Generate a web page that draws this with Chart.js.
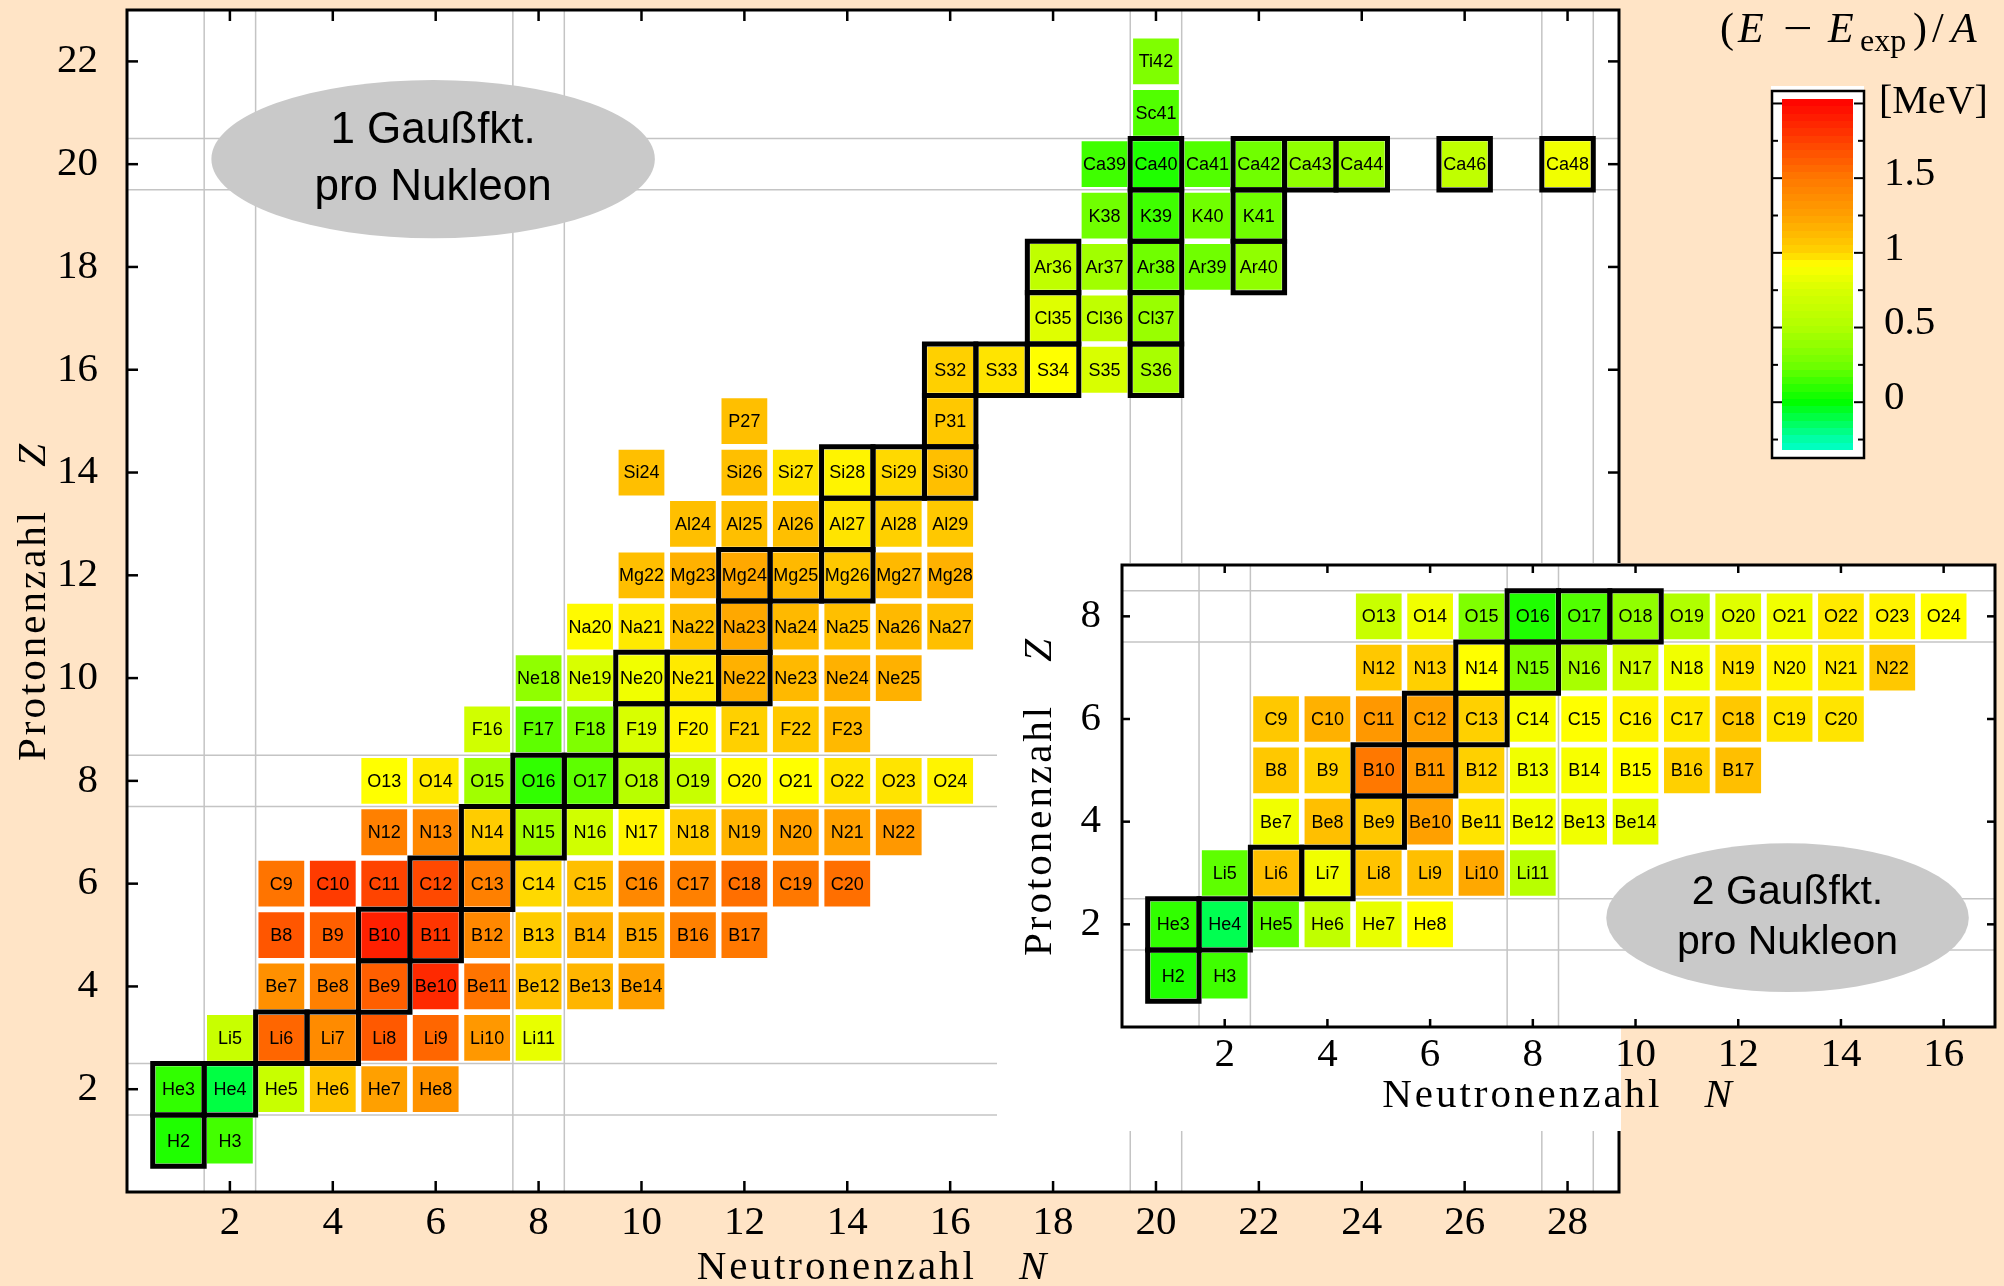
<!DOCTYPE html>
<html>
<head>
<meta charset="utf-8">
<script src="https://cdn.jsdelivr.net/npm/chart.js@4.4.1/dist/chart.umd.min.js"></script>
<style>
  html, body { margin: 0; padding: 0; background: #ffe4c6; }
  body { width: 2004px; height: 1286px; position: relative; overflow: hidden; }
  canvas { position: absolute; }
  #main { left: 0; top: 0; }
  #inset-bg { position: absolute; left: 997px; top: 563px; width: 624px; height: 568px; background: #fff; }
  #inset { left: 997px; top: 545px; }
  #cbar { left: 1700px; top: 0; }
</style>
</head>
<body>
<canvas id="main" width="2004" height="1286"></canvas>
<div id="inset-bg"></div>
<canvas id="inset" width="1007" height="586"></canvas>
<canvas id="cbar" width="304" height="480"></canvas>
<script>
// proton number per element symbol, used to place each nucleus at (N, Z)
const elementZ = { H: 1, He: 2, Li: 3, Be: 4, B: 5, C: 6, N: 7, O: 8, F: 9, Ne: 10, Na: 11, Mg: 12,
  Al: 13, Si: 14, P: 15, S: 16, Cl: 17, Ar: 18, K: 19, Ca: 20, Sc: 21, Ti: 22 };

// 1 Gaussian per nucleon
const mainNuclei = [
  'H2', 'H3',
  'He3', 'He4', 'He5', 'He6', 'He7', 'He8',
  'Li5', 'Li6', 'Li7', 'Li8', 'Li9', 'Li10', 'Li11',
  'Be7', 'Be8', 'Be9', 'Be10', 'Be11', 'Be12', 'Be13', 'Be14',
  'B8', 'B9', 'B10', 'B11', 'B12', 'B13', 'B14', 'B15', 'B16', 'B17',
  'C9', 'C10', 'C11', 'C12', 'C13', 'C14', 'C15', 'C16', 'C17', 'C18', 'C19', 'C20',
  'N12', 'N13', 'N14', 'N15', 'N16', 'N17', 'N18', 'N19', 'N20', 'N21', 'N22',
  'O13', 'O14', 'O15', 'O16', 'O17', 'O18', 'O19', 'O20', 'O21', 'O22', 'O23', 'O24',
  'F16', 'F17', 'F18', 'F19', 'F20', 'F21', 'F22', 'F23',
  'Ne18', 'Ne19', 'Ne20', 'Ne21', 'Ne22', 'Ne23', 'Ne24', 'Ne25',
  'Na20', 'Na21', 'Na22', 'Na23', 'Na24', 'Na25', 'Na26', 'Na27',
  'Mg22', 'Mg23', 'Mg24', 'Mg25', 'Mg26', 'Mg27', 'Mg28',
  'Al24', 'Al25', 'Al26', 'Al27', 'Al28', 'Al29',
  'Si24', 'Si26', 'Si27', 'Si28', 'Si29', 'Si30',
  'P27', 'P31',
  'S32', 'S33', 'S34', 'S35', 'S36',
  'Cl35', 'Cl36', 'Cl37',
  'Ar36', 'Ar37', 'Ar38', 'Ar39', 'Ar40',
  'K38', 'K39', 'K40', 'K41',
  'Ca39', 'Ca40', 'Ca41', 'Ca42', 'Ca43', 'Ca44', 'Ca46', 'Ca48',
  'Sc41', 'Ti42',
];
// (E - Eexp)/A in MeV, same order
const mainDeltaE = [
  0.07, 0.15,
  0.11, -0.10, 0.65, 1.08, 1.25, 1.33,
  0.65, 1.58, 1.38, 1.64, 1.58, 1.30, 0.82,
  1.35, 1.45, 1.61, 1.85, 1.52, 1.10, 1.15, 1.25,
  1.65, 1.61, 1.89, 1.80, 1.40, 1.04, 1.17, 1.21, 1.45, 1.50,
  1.52, 1.77, 1.73, 1.71, 1.45, 0.99, 1.10, 1.40, 1.45, 1.54, 1.50, 1.54,
  1.45, 1.40, 1.04, 0.44, 0.70, 0.94, 1.04, 1.16, 1.25, 1.25, 1.30,
  0.92, 0.96, 0.44, 0.11, 0.21, 0.55, 0.65, 0.93, 0.92, 0.97, 0.97, 0.94,
  0.70, 0.21, 0.31, 0.75, 0.94, 1.02, 1.06, 1.13,
  0.375, 0.75, 0.86, 0.96, 1.17, 1.13, 1.17, 1.17,
  0.93, 0.96, 1.10, 1.21, 1.13, 1.10, 1.13, 1.10,
  1.10, 1.17, 1.21, 1.13, 1.06, 1.13, 1.17,
  1.10, 1.10, 1.10, 0.97, 1.02, 1.06,
  1.10, 1.10, 0.97, 0.94, 0.99, 1.10,
  1.10, 1.06,
  1.02, 0.97, 0.92, 0.75, 0.47,
  0.78, 0.60, 0.41,
  0.60, 0.44, 0.25, 0.25, 0.375,
  0.25, 0.14, 0.25, 0.25,
  0.14, 0.07, 0.18, 0.25, 0.375, 0.41, 0.60, 0.86,
  0.18, 0.31,
];
const mainStable = ['H2', 'He3', 'He4', 'Li6', 'Li7', 'Be9', 'B10', 'B11', 'C12', 'C13', 'N14', 'N15',
  'O16', 'O17', 'O18', 'F19', 'Ne20', 'Ne21', 'Ne22', 'Na23', 'Mg24', 'Mg25', 'Mg26', 'Al27',
  'Si28', 'Si29', 'Si30', 'P31', 'S32', 'S33', 'S34', 'S36', 'Cl35', 'Cl37', 'Ar36', 'Ar38', 'Ar40',
  'K39', 'K41', 'Ca40', 'Ca42', 'Ca43', 'Ca44', 'Ca46', 'Ca48'];

// 2 Gaussians per nucleon
const insetNuclei = [
  'H2', 'H3',
  'He3', 'He4', 'He5', 'He6', 'He7', 'He8',
  'Li5', 'Li6', 'Li7', 'Li8', 'Li9', 'Li10', 'Li11',
  'Be7', 'Be8', 'Be9', 'Be10', 'Be11', 'Be12', 'Be13', 'Be14',
  'B8', 'B9', 'B10', 'B11', 'B12', 'B13', 'B14', 'B15', 'B16', 'B17',
  'C9', 'C10', 'C11', 'C12', 'C13', 'C14', 'C15', 'C16', 'C17', 'C18', 'C19', 'C20',
  'N12', 'N13', 'N14', 'N15', 'N16', 'N17', 'N18', 'N19', 'N20', 'N21', 'N22',
  'O13', 'O14', 'O15', 'O16', 'O17', 'O18', 'O19', 'O20', 'O21', 'O22', 'O23', 'O24',
];
const insetDeltaE = [
  0.07, 0.14,
  0.11, -0.12, 0.21, 0.60, 0.82, 0.92,
  0.21, 1.10, 0.86, 1.08, 1.10, 1.21, 0.55,
  0.86, 1.10, 1.06, 1.25, 0.97, 0.86, 0.86, 0.82,
  1.06, 1.02, 1.50, 1.30, 1.02, 0.86, 0.89, 0.92, 1.02, 1.10,
  1.06, 1.17, 1.30, 1.25, 1.02, 0.89, 0.92, 0.94, 0.96, 1.06, 0.97, 0.97,
  1.06, 1.02, 0.92, 0.31, 0.47, 0.70, 0.86, 0.97, 0.94, 0.96, 1.06,
  0.65, 0.86, 0.31, 0.07, 0.18, 0.375, 0.50, 0.78, 0.86, 0.96, 0.94, 0.92,
];
const insetStable = ['H2', 'He3', 'He4', 'Li6', 'Li7', 'Be9', 'B10', 'B11', 'C12', 'C13', 'N14', 'N15',
  'O16', 'O17', 'O18'];

const magicNumbers = [2, 8, 20, 28];
const mainTicksN = [2, 4, 6, 8, 10, 12, 14, 16, 18, 20, 22, 24, 26, 28];
const mainTicksZ = [2, 4, 6, 8, 10, 12, 14, 16, 18, 20, 22];
const insetTicksN = [2, 4, 6, 8, 10, 12, 14, 16];
const insetTicksZ = [2, 4, 6, 8];

// colour scale of the colour bar
const paletteValues = [-0.32, -0.25, 0, 0.25, 0.5, 0.75, 0.92, 1.0, 1.25, 1.5, 1.75, 2.03];
const paletteColors = ['#00ffcc', '#00ffa8', '#00ff00', '#70ff00', '#b0ff00', '#d8ff00', '#ffff00',
  '#ffd400', '#ffa000', '#ff7800', '#ff4000', '#ff0000'];
const colorbarMajor = [0, 0.5, 1, 1.5, 2];
const colorbarMinor = [-0.25, 0.25, 0.75, 1.25, 1.75];
const colorbarLabels = [0, 0.5, 1, 1.5];

const serif = '"Liberation Serif", "Times New Roman", serif';
const sans = '"Liberation Sans", Arial, sans-serif';
const tickFont = { family: serif, size: 41 };
const cellSize = 0.89;

function hexToRgb(h) { return [1, 3, 5].map((i) => parseInt(h.slice(i, i + 2), 16)); }
function valueColor(v) {
  if (v <= paletteValues[0]) return paletteColors[0];
  for (let i = 1; i < paletteValues.length; i++) {
    if (v <= paletteValues[i]) {
      const t = (v - paletteValues[i - 1]) / (paletteValues[i] - paletteValues[i - 1]);
      const a = hexToRgb(paletteColors[i - 1]);
      const b = hexToRgb(paletteColors[i]);
      return `rgb(${a.map((c, k) => Math.round(c + (b[k] - c) * t)).join(',')})`;
    }
  }
  return paletteColors[paletteColors.length - 1];
}

function nucleus(name, value) {
  const [, sym, a] = name.match(/^([A-Z][a-z]?)(\d+)$/);
  const z = elementZ[sym];
  return { x: Number(a) - z, y: z, label: name, value };
}

function unitPx(chart, axis) {
  const s = chart.scales[axis];
  return Math.abs(s.getPixelForValue(1) - s.getPixelForValue(0));
}
function seg(ctx, x1, y1, x2, y2) { ctx.beginPath(); ctx.moveTo(x1, y1); ctx.lineTo(x2, y2); ctx.stroke(); }

function drawAxisTitle(ctx, word, sym, x, y, rotate, gap) {
  const font = `41px ${serif}`;
  ctx.save();
  ctx.translate(x, y);
  if (rotate) ctx.rotate(-Math.PI / 2);
  ctx.fillStyle = '#000';
  ctx.textAlign = 'left';
  ctx.textBaseline = 'alphabetic';
  ctx.letterSpacing = '3px';
  ctx.font = font;
  const w1 = ctx.measureText(word).width;
  ctx.font = 'italic ' + font;
  const w2 = ctx.measureText(sym).width;
  const start = -(w1 + gap + w2) / 2;
  ctx.font = font;
  ctx.fillText(word, start, 0);
  ctx.font = 'italic ' + font;
  ctx.fillText(sym, start + w1 + gap, 0);
  ctx.restore();
}

function makeDecor(cfg) {
  return {
    id: 'decor',
    beforeDraw(chart) {
      const { ctx, chartArea: a } = chart;
      ctx.save();
      ctx.fillStyle = '#fff';
      ctx.fillRect(a.left, a.top, a.width, a.height);
      ctx.restore();
    },
    beforeDatasetsDraw(chart) {
      const { ctx, chartArea: a, scales: { x, y } } = chart;
      ctx.save();
      ctx.strokeStyle = '#c4c4c4';
      ctx.lineWidth = 1.5;
      magicNumbers.forEach((m) => {
        [m - 0.5, m + 0.5].forEach((v) => {
          if (v < x.max) { const px = x.getPixelForValue(v); seg(ctx, px, a.top, px, a.bottom); }
          if (v < y.max) { const py = y.getPixelForValue(v); seg(ctx, a.left, py, a.right, py); }
        });
      });
      const e = cfg.ellipse;
      const cx = x.getPixelForValue(e.n);
      const cy = y.getPixelForValue(e.z);
      ctx.fillStyle = '#c9c9c9';
      ctx.beginPath();
      ctx.ellipse(cx, cy, e.rn * unitPx(chart, 'x'), e.rz * unitPx(chart, 'y'), 0, 0, Math.PI * 2);
      ctx.fill();
      ctx.fillStyle = '#000';
      ctx.font = `${e.size}px ${sans}`;
      ctx.textAlign = 'center';
      ctx.textBaseline = 'middle';
      e.lines.forEach((t, i) => ctx.fillText(t, cx, cy + (i - 0.5) * e.gap));
      ctx.restore();
    },
    afterDatasetsDraw(chart) {
      const { ctx, chartArea: a, scales: { x, y } } = chart;
      ctx.save();
      // nucleus names
      const pts = chart.data.datasets[0].data;
      ctx.fillStyle = '#000';
      ctx.font = `18px ${sans}`;
      ctx.textAlign = 'center';
      ctx.textBaseline = 'middle';
      chart.getDatasetMeta(0).data.forEach((el, i) => ctx.fillText(pts[i].label, el.x, el.y + 1));
      // frame and inward ticks
      ctx.strokeStyle = '#000';
      ctx.lineWidth = 3;
      ctx.strokeRect(a.left, a.top, a.width, a.height);
      ctx.lineWidth = 2.5;
      x.ticks.forEach((t) => {
        const px = x.getPixelForValue(t.value);
        seg(ctx, px, a.bottom, px, a.bottom - cfg.tickLen);
        seg(ctx, px, a.top, px, a.top + cfg.tickLen);
      });
      y.ticks.forEach((t) => {
        const py = y.getPixelForValue(t.value);
        seg(ctx, a.left, py, a.left + cfg.tickLen, py);
        seg(ctx, a.right, py, a.right - cfg.tickLen, py);
      });
      ctx.restore();
      drawAxisTitle(ctx, 'Neutronenzahl', 'N', (a.left + a.right) / 2, a.bottom + cfg.xTitleOffset, false, 42);
      drawAxisTitle(ctx, 'Protonenzahl', 'Z', a.left - cfg.yTitleOffset, (a.top + a.bottom) / 2, true, 42);
    },
  };
}

function makeChart(canvas, cfg) {
  const points = cfg.nuclei.map((n, i) => nucleus(n, cfg.values[i]));
  const stable = points.filter((p) => cfg.stable.includes(p.label));
  const cellRadius = (c) => unitPx(c.chart, 'x') * cellSize / 2 * Math.SQRT2;
  const boxRadius = (c) => unitPx(c.chart, 'x') / 2 * Math.SQRT2;
  return new Chart(canvas, {
    type: 'scatter',
    data: {
      datasets: [
        {
          data: points,
          pointStyle: 'rect',
          pointBackgroundColor: points.map((p) => valueColor(p.value)),
          pointBorderWidth: 0,
          pointHoverBorderWidth: 0,
          pointRadius: cellRadius,
          pointHoverRadius: cellRadius,
          order: 2,
        },
        {
          data: stable,
          pointStyle: 'rect',
          pointBackgroundColor: 'rgba(0,0,0,0)',
          pointBorderColor: '#000',
          pointBorderWidth: 5,
          pointHoverBorderWidth: 5,
          pointRadius: boxRadius,
          pointHoverRadius: boxRadius,
          order: 1,
        },
      ],
    },
    options: {
      responsive: false,
      animation: false,
      devicePixelRatio: 1,
      events: [],
      layout: { padding: cfg.padding },
      scales: {
        x: {
          type: 'linear', min: 0, max: cfg.xMax,
          grid: { display: false }, border: { display: false },
          ticks: { font: tickFont, color: '#000', padding: cfg.xTickPad, autoSkip: false, maxRotation: 0, callback: (v) => String(v) },
          afterBuildTicks: (s) => { s.ticks = cfg.xTicks.map((v) => ({ value: v })); },
          afterFit: (s) => { s.height = cfg.xAxisSize; s.paddingLeft = 0; s.paddingRight = 0; },
        },
        y: {
          type: 'linear', min: 0, max: cfg.yMax,
          grid: { display: false }, border: { display: false },
          ticks: { font: tickFont, color: '#000', padding: cfg.yTickPad, autoSkip: false, callback: (v) => String(v) },
          afterBuildTicks: (s) => { s.ticks = cfg.yTicks.map((v) => ({ value: v })); },
          afterFit: (s) => { s.width = cfg.yAxisSize; s.paddingTop = 0; s.paddingBottom = 0; },
        },
      },
      plugins: { legend: { display: false }, tooltip: { enabled: false } },
    },
    plugins: [makeDecor(cfg)],
  });
}

makeChart(document.getElementById('main'), {
  nuclei: mainNuclei, values: mainDeltaE, stable: mainStable,
  xMax: 29, yMax: 23, xTicks: mainTicksN, yTicks: mainTicksZ,
  padding: { left: 0, top: 10, right: 385, bottom: 0 },
  xAxisSize: 94, yAxisSize: 127, xTickPad: -1, yTickPad: 21,
  tickLen: 11, xTitleOffset: 87, yTitleOffset: 82,
  ellipse: { n: 5.95, z: 20.1, rn: 4.31, rz: 1.54, lines: ['1 Gaußfkt.', 'pro Nukleon'], size: 44, gap: 57 },
});

makeChart(document.getElementById('inset'), {
  nuclei: insetNuclei, values: insetDeltaE, stable: insetStable,
  xMax: 17, yMax: 9, xTicks: insetTicksN, yTicks: insetTicksZ,
  padding: { left: 0, top: 20, right: 9, bottom: 0 },
  xAxisSize: 104, yAxisSize: 125, xTickPad: -4, yTickPad: 13,
  tickLen: 8, xTitleOffset: 80, yTitleOffset: 71,
  ellipse: { n: 12.96, z: 2.13, rn: 3.53, rz: 1.45, lines: ['2 Gaußfkt.', 'pro Nukleon'], size: 41, gap: 50 },
});

// colour bar
const cbarMin = paletteValues[0];
const cbarMax = paletteValues[paletteValues.length - 1];
const cbarBands = 48;
function cbarGradient(c) {
  const { chart } = c;
  if (!chart.chartArea) return paletteColors[0];
  const y = chart.scales.y;
  const g = chart.ctx.createLinearGradient(0, y.getPixelForValue(cbarMin), 0, y.getPixelForValue(cbarMax));
  for (let k = 0; k < cbarBands; k++) {
    const col = valueColor(cbarMin + (k + 0.5) / cbarBands * (cbarMax - cbarMin));
    g.addColorStop(k / cbarBands, col);
    g.addColorStop((k + 1) / cbarBands, col);
  }
  return g;
}

const cbarDecor = {
  id: 'cbarDecor',
  beforeDatasetsDraw(chart) {
    const { ctx, chartArea: a } = chart;
    ctx.save();
    ctx.fillStyle = '#fff';
    ctx.fillRect(a.left - 11, a.top - 13, a.width + 22, 5);
    ctx.fillRect(a.left - 10, a.top - 8, a.width + 21, a.height + 16);
    ctx.restore();
  },
  afterDatasetsDraw(chart) {
    const { ctx, chartArea: a, scales: { y } } = chart;
    const l = a.left - 10, r = a.right + 11, t = a.top - 8, b = a.bottom + 8;
    ctx.save();
    ctx.strokeStyle = '#000';
    ctx.lineWidth = 2.5;
    ctx.strokeRect(l, t, r - l, b - t);
    ctx.lineWidth = 2;
    const tick = (v, len) => {
      const py = y.getPixelForValue(v);
      seg(ctx, l, py, l + len, py);
      seg(ctx, r, py, r - len, py);
    };
    colorbarMajor.forEach((v) => tick(v, 10));
    colorbarMinor.forEach((v) => tick(v, 6));
    // title (E - E_exp)/A and unit
    ctx.fillStyle = '#000';
    ctx.textBaseline = 'alphabetic';
    ctx.textAlign = 'left';
    const up = `42px ${serif}`;
    const it = `italic 42px ${serif}`;
    [['(', up, 20], ['E', it, 38], ['E', it, 128], [')', up, 213], ['/', up, 232], ['A', it, 251]]
      .forEach(([s, f, px]) => { ctx.font = f; ctx.fillText(s, px, 42); });
    ctx.save();
    ctx.translate(83, 42);
    ctx.scale(1.25, 1);
    ctx.font = up;
    ctx.fillText('\u2212', 0, 0);
    ctx.restore();
    ctx.font = `32px ${serif}`;
    ctx.fillText('exp', 160, 51);
    ctx.font = `40px ${serif}`;
    ctx.fillText('[MeV]', 179, 113);
    ctx.restore();
  },
};

new Chart(document.getElementById('cbar'), {
  type: 'bar',
  data: {
    labels: [''],
    datasets: [{ data: [[cbarMin, cbarMax]], backgroundColor: cbarGradient, borderWidth: 0, barPercentage: 1, categoryPercentage: 1 }],
  },
  options: {
    responsive: false,
    animation: false,
    devicePixelRatio: 1,
    events: [],
    layout: { padding: { left: 82, top: 99, bottom: 30, right: 0 } },
    scales: {
      x: { display: false },
      y: {
        position: 'right', min: cbarMin, max: cbarMax,
        grid: { display: false }, border: { display: false },
        ticks: { font: tickFont, color: '#000', padding: 23, labelOffset: -4, callback: (v) => String(v) },
        afterBuildTicks: (s) => { s.ticks = colorbarLabels.map((v) => ({ value: v })); },
        afterFit: (s) => { s.width = 151; s.paddingTop = 0; s.paddingBottom = 0; },
      },
    },
    plugins: { legend: { display: false }, tooltip: { enabled: false } },
  },
  plugins: [cbarDecor],
});
</script>
</body>
</html>
